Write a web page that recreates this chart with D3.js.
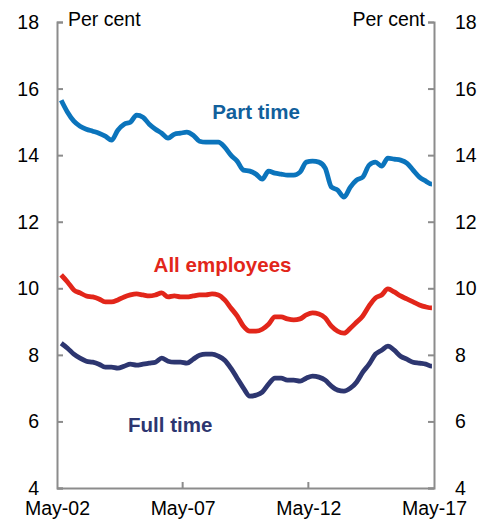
<!DOCTYPE html>
<html>
<head>
<meta charset="utf-8">
<script src="https://cdn.jsdelivr.net/npm/d3@7"></script>
<style>
  html, body { margin: 0; padding: 0; background: #fff; }
  svg text { font-family: Arial, "Liberation Sans", sans-serif; }
</style>
</head>
<body>
<div id="chart"></div>
<script>
// quarterly observations, May-2002 to May-2017 (per cent)
var partTime = [15.65, 15.29, 15.02, 14.87, 14.78, 14.72, 14.66, 14.57, 14.45, 14.75,
                14.93, 14.99, 15.20, 15.14, 14.93, 14.78, 14.66, 14.51, 14.63, 14.66,
                14.69, 14.60, 14.42, 14.39, 14.39, 14.39, 14.24, 14.00, 13.82, 13.55,
                13.52, 13.43, 13.28, 13.52, 13.46, 13.43, 13.40, 13.40, 13.49, 13.79,
                13.82, 13.79, 13.61, 13.04, 12.95, 12.74, 13.04, 13.25, 13.34, 13.70,
                13.79, 13.67, 13.91, 13.88, 13.85, 13.76, 13.55, 13.34, 13.22, 13.13, 13.16];
var allEmployees = [10.40, 10.19, 9.95, 9.86, 9.77, 9.74, 9.68, 9.59, 9.59, 9.65,
                    9.74, 9.80, 9.83, 9.80, 9.77, 9.80, 9.86, 9.74, 9.77, 9.74,
                    9.74, 9.77, 9.80, 9.80, 9.83, 9.80, 9.65, 9.41, 9.17, 8.86,
                    8.71, 8.71, 8.77, 8.92, 9.14, 9.14, 9.08, 9.05, 9.08, 9.20,
                    9.26, 9.23, 9.11, 8.86, 8.71, 8.65, 8.80, 8.98, 9.17, 9.47,
                    9.71, 9.80, 9.98, 9.89, 9.77, 9.68, 9.59, 9.50, 9.44, 9.41, 9.38];
var fullTime = [8.35, 8.20, 8.02, 7.90, 7.81, 7.78, 7.72, 7.63, 7.63, 7.60,
                7.66, 7.72, 7.69, 7.72, 7.75, 7.78, 7.90, 7.81, 7.78, 7.78,
                7.75, 7.87, 7.99, 8.02, 8.02, 7.96, 7.84, 7.60, 7.30, 7.00,
                6.76, 6.79, 6.88, 7.12, 7.30, 7.30, 7.24, 7.24, 7.21, 7.30,
                7.36, 7.33, 7.24, 7.06, 6.94, 6.91, 7.00, 7.18, 7.48, 7.72,
                8.02, 8.14, 8.26, 8.14, 7.96, 7.87, 7.78, 7.75, 7.72, 7.66, 7.60];
var seriesNames = ['Part time', 'All employees', 'Full time'];
var yTicks = [4, 6, 8, 10, 12, 14, 16, 18];
var xTickLabels = ['May-02', 'May-07', 'May-12', 'May-17'];

var width = 491, height = 527,
    margin = { top: 22, right: 57, bottom: 39, left: 57 },
    colours = { 'Part time': '#0b74bc', 'All employees': '#e2261a', 'Full time': '#2d3670' },
    labelColours = { 'Part time': '#11609c', 'All employees': '#e2261a', 'Full time': '#2d3670' };

var dates = d3.timeMonth.every(3).range(new Date(2002, 4, 1), new Date(2017, 5, 1));
var tickDates = xTickLabels.map(function(s) {
    return d3.timeParse('%b-%y')(s);
});

var svg = d3.select('#chart').append('svg')
    .attr('width', width)
    .attr('height', height);

var x = d3.scaleTime()
    .domain([tickDates[0], tickDates[tickDates.length - 1]])
    .range([margin.left, width - margin.right]);
var y = d3.scaleLinear()
    .domain([4, 18])
    .range([height - margin.bottom, margin.top]);

var axisColour = '#8c8c8c';

// axes
svg.append('g')
    .attr('transform', 'translate(0,' + y(4) + ')')
    .call(d3.axisBottom(x).tickValues(tickDates).tickSize(0).tickFormat(function(d, i) { return xTickLabels[i]; }))
    .call(function(g) {
        g.select('.domain').attr('stroke', axisColour).attr('stroke-width', 2);
        g.selectAll('text').attr('font-size', 19.5).attr('fill', '#000').attr('dy', '1.25em');
    });
svg.append('g')
    .selectAll('line')
    .data(tickDates.slice(1, -1))
    .enter().append('line')
    .attr('x1', function(d) { return x(d); })
    .attr('x2', function(d) { return x(d); })
    .attr('y1', y(4))
    .attr('y2', y(4) - 6)
    .attr('stroke', axisColour)
    .attr('stroke-width', 2);

svg.append('g')
    .attr('transform', 'translate(' + margin.left + ',0)')
    .call(d3.axisRight(y).tickValues(yTicks).tickSize(6).tickFormat(''))
    .call(function(g) {
        g.select('.domain').attr('stroke', axisColour).attr('stroke-width', 2);
        g.selectAll('line').attr('stroke', axisColour).attr('stroke-width', 2);
    });
svg.append('g')
    .attr('transform', 'translate(' + (width - margin.right) + ',0)')
    .call(d3.axisLeft(y).tickValues(yTicks).tickSize(6).tickFormat(''))
    .call(function(g) {
        g.select('.domain').attr('stroke', axisColour).attr('stroke-width', 2);
        g.selectAll('line').attr('stroke', axisColour).attr('stroke-width', 2);
    });

// tick labels outside the axes
svg.append('g').selectAll('text')
    .data(yTicks)
    .enter().append('text')
    .attr('x', margin.left - 18)
    .attr('y', function(d) { return y(d); })
    .attr('dy', '0.36em')
    .attr('text-anchor', 'end')
    .attr('font-size', 19.5)
    .text(function(d) { return d; });
svg.append('g').selectAll('text')
    .data(yTicks)
    .enter().append('text')
    .attr('x', width - margin.right + 21)
    .attr('y', function(d) { return y(d); })
    .attr('dy', '0.36em')
    .attr('text-anchor', 'start')
    .attr('font-size', 19.5)
    .text(function(d) { return d; });

svg.append('text')
    .attr('x', margin.left + 11)
    .attr('y', 26)
    .attr('font-size', 19.5)
    .text('Per cent');
svg.append('text')
    .attr('x', width - margin.right - 9)
    .attr('y', 26)
    .attr('text-anchor', 'end')
    .attr('font-size', 19.5)
    .text('Per cent');

// lines
var line = d3.line()
    .x(function(d, i) { return x(dates[i]); })
    .y(function(d) { return y(d); })
    .curve(d3.curveMonotoneX);

[partTime, allEmployees, fullTime].forEach(function(values, k) {
    svg.append('path')
        .datum(values)
        .attr('fill', 'none')
        .attr('stroke', colours[seriesNames[k]])
        .attr('stroke-width', 4.8)
        .attr('stroke-linejoin', 'round')
        .attr('d', line);
});

// series labels
var labelPos = [
    { name: 'Part time', date: new Date(2010, 3, 1), value: 15.1 },
    { name: 'All employees', date: new Date(2008, 11, 1), value: 10.49 },
    { name: 'Full time', date: new Date(2006, 10, 1), value: 5.67 }
];
svg.append('g').selectAll('text')
    .data(labelPos)
    .enter().append('text')
    .attr('x', function(d) { return x(d.date); })
    .attr('y', function(d) { return y(d.value); })
    .attr('text-anchor', 'middle')
    .attr('font-size', 20.5)
    .attr('font-weight', 'bold')
    .attr('fill', function(d) { return labelColours[d.name]; })
    .text(function(d) { return d.name; });
</script>
</body>
</html>
